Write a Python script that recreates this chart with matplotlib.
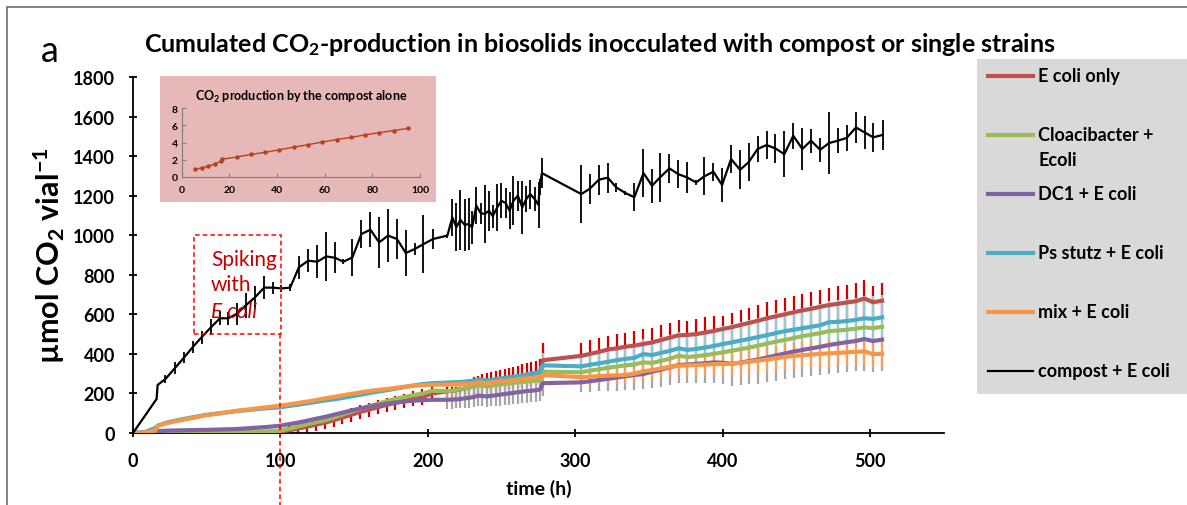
import numpy as np
import matplotlib
matplotlib.use('Agg')
import matplotlib.pyplot as plt
from matplotlib.patches import Rectangle

plt.rcParams['font.family'] = ['Lato', 'DejaVu Sans']
plt.rcParams['mathtext.fontset'] = 'custom'
plt.rcParams['mathtext.rm'] = 'Lato'
plt.rcParams['mathtext.bf'] = 'Lato:bold'
plt.rcParams['mathtext.default'] = 'bf'

# ------------------------------------------------------------------------------
# compost + E coli (black)
t_comp = [0, 16, 16.7, 22, 28.5, 34.8, 40.7, 46.5, 52.8, 59, 64.6, 70.3, 76.3, 82.7, 89, 95,
          100.7, 106.6, 112.5, 118.8, 125, 131, 136.9, 142.7, 148.8, 154.9, 161, 166.9, 173,
          179, 185, 191, 197, 203.5, 213.2, 216.6, 219.3, 222, 225, 227.6, 230, 232.8, 235.8,
          238.5, 241.4, 244, 247, 249.8, 252.7, 255.4, 258, 261, 264, 266.7, 269.4, 272.4, 275,
          275.7, 277.3, 304, 309.6, 316, 322, 327.7, 334, 340, 346.2, 352, 357.5, 363.8, 369.7,
          375.5, 381.9, 387.5, 393.6, 399.5, 405.6, 411.7, 417.5, 423.6, 429.7, 435.6, 441.7,
          447.8, 453.9, 459.8, 466, 472, 478.1, 484, 490.3, 496.1, 502, 508.3]
y_comp = [0, 172, 243, 273, 329, 383, 436, 484, 534, 580, 580, 602, 644, 686, 735, 735,
          731, 735, 838, 871, 866, 893, 886, 866, 888, 1006, 1028, 964, 998,
          981, 910, 930, 955, 981, 998, 1090, 1040, 1078, 1052, 1057, 1040, 1149, 1112,
          1107, 1124, 1096, 1141, 1174, 1163, 1124, 1174, 1200, 1141, 1183, 1208, 1183, 1153,
          1242, 1314, 1208, 1234, 1281, 1291, 1242, 1213, 1192, 1314, 1250, 1293, 1338, 1309,
          1293, 1267, 1298, 1321, 1254, 1385, 1331, 1369, 1436, 1456, 1439, 1410,
          1503, 1436, 1478, 1432, 1466, 1478, 1492, 1545, 1520, 1495, 1507]
e_comp = [0, 0, 0, 18, 30, 27, 30, 34, 40, 35, 34, 55, 63, 59, 59, 30,
          17, 18, 59, 59, 83, 122, 78, 14, 93, 72, 88, 129, 135,
          103, 115, 32, 148, 49, 10, 93, 122, 152, 133, 131, 84, 93, 53,
          148, 101, 59, 118, 89, 76, 93, 124, 76, 135, 66, 73, 59, 114,
          40, 76, 147, 78, 76, 76, 21, 12, 70, 120, 85, 124, 73, 72,
          78, 13, 95, 46, 84, 72, 98, 95, 67, 70, 74, 118,
          65, 107, 60, 62, 156, 63, 65, 78, 84, 73, 75]

# ------------------------------------------------------------------------------
# biosolids + single strains, common sampling times
t_col = [0, 8, 15, 17, 24, 35, 50, 70, 90,
         100, 106, 112, 118, 124, 130, 136, 142, 148, 154, 160, 166, 172, 178, 184, 190, 196, 203,
         213, 216, 219, 222, 225, 228, 231, 234, 237, 240, 243, 246, 249, 252, 255, 258, 261, 264,
         267, 270, 273, 276,
         278,
         304, 310, 316, 322, 328, 334, 340, 346, 352, 358, 364, 370, 376, 382, 388, 394, 400, 406,
         412, 418, 424, 430, 436, 442, 448, 454, 460, 466, 472, 478, 484, 490, 496, 502, 508]

y_ecoli = [0, 0, 0, 0, 0, 0, 1, 2, 4,
           8, 14, 22, 32, 42, 52, 64, 78, 92, 106, 118, 130, 142, 152, 162, 172, 182, 200,
           210, 213, 216, 220, 225, 230, 236, 242, 248, 252, 256, 260, 265, 270, 274, 278, 283, 288,
           293, 298, 303, 308,
           368,
           390, 400, 410, 422, 428, 436, 442, 450, 458, 470, 482, 494, 496, 500, 508, 516, 526, 535,
           546, 557, 568, 580, 590, 600, 610, 620, 628, 638, 647, 653, 660, 666, 680, 661, 669]
e_ecoli = [0, 0, 0, 0, 0, 0, 0, 0, 0,
           30, 30, 32, 32, 33, 33, 34, 34, 35, 35, 35, 36, 36, 37, 37, 38, 38, 40,
           40, 42, 42, 44, 45, 45, 47, 48, 50, 50, 52, 52, 54, 55, 56, 58, 58, 60,
           60, 62, 62, 64,
           88,
           67, 68, 70, 70, 72, 72, 74, 76, 74, 76, 76, 78, 72, 74, 76, 78, 67, 72,
           74, 76, 78, 80, 80, 82, 82, 84, 84, 86, 86, 88, 88, 90, 93, 82, 90]

y_cloac = [0, 0, 1, 2, 3, 4, 5, 6, 8,
           12, 22, 33, 44, 54, 64, 78, 93, 108, 122, 135, 148, 161, 172, 182, 191, 199, 214,
           212, 214, 218, 222, 226, 230, 234, 240, 238, 236, 239, 242, 245, 248, 251, 254, 256, 258,
           260, 262, 264, 266,
           310,
           307, 315, 322, 330, 336, 342, 347, 357, 354, 365, 375, 391, 384, 388, 394, 400, 408, 416,
           424, 432, 442, 452, 462, 470, 480, 490, 497, 505, 515, 518, 522, 528, 534, 530, 537]

y_dc1 = [0, 2, 5, 10, 12, 14, 16, 20, 30,
         37, 45, 53, 62, 72, 81, 92, 103, 114, 124, 133, 141, 148, 154, 159, 163, 166, 168,
         168, 169, 170, 172, 175, 178, 182, 189, 187, 185, 188, 191, 194, 197, 200, 203, 206, 209,
         212, 214, 216, 220,
         252,
         256, 262, 268, 274, 280, 287, 293, 298, 310, 320, 332, 344, 346, 350, 353, 357, 355, 350,
         356, 364, 372, 382, 392, 402, 412, 420, 428, 436, 445, 452, 459, 465, 475, 465, 472]
e_dc1 = [0, 0, 0, 0, 0, 0, 0, 0, 0,
         0, 0, 0, 0, 0, 0, 0, 0, 0, 0, 0, 0, 0, 0, 0, 0, 0, 0,
         45, 46, 46, 48, 48, 50, 50, 52, 52, 52, 54, 54, 55, 55, 56, 56, 57, 57,
         58, 58, 60, 60,
         65,
         50, 55, 58, 62, 66, 70, 74, 78, 82, 85, 88, 92, 95, 98, 100, 104, 108, 112,
         115, 118, 122, 125, 128, 130, 133, 136, 140, 142, 145, 148, 150, 153, 160, 155, 158]

y_psstutz = [0, 5, 25, 38, 55, 72, 92, 110, 125,
             130, 137, 143, 150, 157, 164, 170, 177, 185, 193, 201, 209, 216, 224, 232, 240, 247, 252,
             255, 256, 257, 258, 260, 262, 264, 270, 268, 266, 268, 272, 276, 279, 282, 285, 288, 292,
             296, 300, 304, 308,
             342,
             337, 345, 352, 360, 368, 375, 380, 399, 394, 405, 415, 428, 420, 425, 432, 440, 450, 458,
             467, 476, 485, 495, 505, 515, 522, 530, 537, 545, 560, 562, 566, 572, 580, 577, 585]
e_psstutz = [0, 0, 0, 0, 0, 0, 0, 0, 0,
             0, 0, 0, 0, 0, 0, 0, 0, 0, 0, 0, 0, 0, 0, 0, 0, 0, 0,
             0, 0, 0, 0, 0, 0, 0, 0, 0, 0, 0, 0, 0, 0, 0, 0, 0, 0,
             0, 0, 0, 0,
             60,
             60, 62, 64, 66, 68, 70, 72, 74, 76, 78, 80, 82, 84, 85, 86, 88, 90, 92,
             94, 95, 96, 98, 100, 101, 102, 104, 105, 106, 108, 109, 110, 112, 115, 115, 115]

y_mix = [0, 3, 12, 37, 52, 68, 90, 112, 130,
         138, 145, 152, 159, 166, 175, 182, 190, 198, 205, 212, 218, 222, 228, 234, 238, 242, 244,
         245, 246, 247, 248, 249, 250, 252, 256, 254, 253, 255, 258, 261, 264, 266, 268, 271, 274,
         276, 278, 281, 284,
         293,
         282, 285, 288, 290, 292, 293, 300, 312, 318, 326, 335, 340, 342, 344, 346, 348, 349, 350,
         355, 360, 366, 372, 378, 384, 390, 393, 397, 400, 403, 405, 408, 410, 413, 398, 401]
e_mix = [0, 0, 0, 0, 0, 0, 0, 0, 0,
         0, 0, 0, 0, 0, 0, 0, 0, 0, 0, 0, 0, 0, 0, 0, 0, 0, 0,
         12, 12, 13, 13, 14, 14, 14, 15, 15, 16, 16, 16, 17, 17, 18, 18, 18, 19,
         19, 20, 20, 20,
         30,
         40, 42, 42, 44, 45, 46, 48, 48, 50, 50, 52, 53, 54, 55, 56, 56, 58, 58,
         60, 60, 62, 62, 63, 64, 65, 66, 66, 67, 68, 68, 69, 70, 70, 70, 70]

# inset: compost alone
t_inset = [5.5, 8.5, 11, 14, 16.5, 17, 23, 29, 35, 41, 47, 53, 59, 65, 71, 77, 83, 89, 95]
y_inset = [0.85, 1.05, 1.2, 1.5, 1.8, 2.05, 2.3, 2.6, 2.85, 3.15, 3.45, 3.75, 4.05, 4.35,
           4.6, 4.9, 5.15, 5.4, 5.65]

labels = ['E coli only', 'Cloacibacter +\nEcoli', 'DC1 + E coli', 'Ps stutz + E coli',
          'mix + E coli', 'compost + E coli']
colors = ['#c0504d', '#9bbb59', '#8064a2', '#4bacc6', '#f79646', '#000000']

# ==============================================================================
W, H = 1187, 506
fig = plt.figure(figsize=(W / 100, H / 100), dpi=100)

# frame around the panel
fig.patches.append(Rectangle((7 / W, -0.1), 1.2, 1.1 - 8 / H, transform=fig.transFigure,
                             fill=False, edgecolor='#6f6f6f', lw=1.2))

ax = fig.add_axes([133 / W, 72 / H, 811 / W, 356 / H])
t = np.array(t_col)


def bars(y, e, color, z):
    y = np.array(y, float)
    e = np.array(e, float)
    m = e > 0
    ax.vlines(t[m], y[m] - e[m], y[m] + e[m], colors=color, lw=1.6, zorder=z)


bars(y_ecoli, e_ecoli, '#d00000', 2.0)
bars(y_dc1, e_dc1, '#a6a6a6', 2.1)
bars(y_psstutz, e_psstutz, '#8fcbdc', 2.2)
bars(y_mix, e_mix, '#f8a05a', 2.3)

series = [y_ecoli, y_cloac, y_dc1, y_psstutz, y_mix]
for i, y in enumerate(series):
    ax.plot(t, y, color=colors[i], lw=3, zorder=3 + i * 0.1, solid_joinstyle='round')

ax.errorbar(t_comp, y_comp, yerr=e_comp, color='black', lw=1.6, elinewidth=1.3,
            capsize=0, zorder=4)

# spiking annotation
spike_t = 100
ax.add_patch(Rectangle((41.5, 500), spike_t + 0.7 - 41.5, 500, fill=False,
                       edgecolor='#ff0000', ls=(0, (3, 2)), lw=1.1, zorder=5))
ax.plot([spike_t, spike_t], [500, -370], color='#ff0000', ls=(0, (3, 2)), lw=1.1,
        clip_on=False, zorder=5)
ax.text(53, 880, 'Spiking', color='#c00000', fontsize=15, va='center', zorder=6)
ax.text(53, 752, 'with', color='#c00000', fontsize=15, va='center', zorder=6)
ax.text(53, 618, 'E coli', color='#c00000', fontsize=15, va='center', style='italic',
        zorder=6)

ax.set_xlim(0, 550)
ax.set_ylim(0, 1800)
ax.set_xticks(range(0, 501, 100))
ax.set_yticks(range(0, 1801, 200))
for s in ['top', 'right']:
    ax.spines[s].set_visible(False)
for s in ['left', 'bottom']:
    ax.spines[s].set_linewidth(1.3)
ax.tick_params(direction='inout', length=6, width=1.3, labelsize=13)
ax.tick_params(axis='x', pad=11)
ax.tick_params(axis='y', pad=10)
for lab in ax.get_xticklabels() + ax.get_yticklabels():
    lab.set_fontweight('bold')
ax.set_xlabel('time (h)', fontsize=14, fontweight='bold', labelpad=7)
ax.set_ylabel('µmol CO$_2$ vial$^{-1}$', fontsize=22, fontweight='bold', labelpad=4)

fig.text(600 / W, 1 - 45 / H,
         'Cumulated CO$_2$-production in biosolids inocculated with compost or single strains',
         ha='center', va='center', fontsize=18, fontweight='bold')
fig.text(50 / W, 1 - 52 / H, 'a', ha='center', va='center', fontsize=26)

# ------------------------------------------------------------------------------
# inset
bg = fig.add_axes([160 / W, (H - 203) / H, 276 / W, 126 / H])
bg.set_facecolor('#e6b8b7')
bg.set_xticks([])
bg.set_yticks([])
for s in bg.spines.values():
    s.set_visible(False)

ins = fig.add_axes([181.7 / W, (H - 177.7) / H, 238.3 / W, 68.4 / H])
ins.patch.set_alpha(0)
ins.plot(t_inset, y_inset, color='#b5441c', lw=1, marker='o', ms=2.2)
ins.set_xlim(0, 100)
ins.set_ylim(0, 8)
ins.set_xticks(range(0, 101, 20))
ins.set_yticks(range(0, 9, 2))
for s in ['top', 'right']:
    ins.spines[s].set_visible(False)
for s in ['left', 'bottom']:
    ins.spines[s].set_color('#808080')
    ins.spines[s].set_linewidth(0.8)
ins.tick_params(direction='in', length=3, width=0.8, color='#808080', labelsize=7.5, pad=3)
ins.tick_params(axis='x', pad=6)
for lab in ins.get_xticklabels() + ins.get_yticklabels():
    lab.set_fontweight('bold')
ins.set_title('CO$_2$ production by the compost alone', fontsize=9, fontweight='bold',
              pad=6)

# ------------------------------------------------------------------------------
# legend box
lx0, ly0, ly1 = 976.7, 60, 395
lax = fig.add_axes([lx0 / W, (H - ly1) / H, (W - lx0) / W, (ly1 - ly0) / H])
lax.set_facecolor('#d9d9d9')
lax.set_xlim(lx0, W)
lax.set_ylim(ly1, ly0)
lax.set_xticks([])
lax.set_yticks([])
for s in lax.spines.values():
    s.set_visible(False)
row0, step = 76.7, 59
for i, lab in enumerate(labels):
    yy = row0 + i * step
    lax.plot([988, 1033], [yy, yy], color=colors[i], lw=3 if i < 5 else 1.6)
    for k, part in enumerate(lab.split('\n')):
        lax.text(1038, yy + k * 25, part, fontsize=13, fontweight='bold', va='center')

fig.savefig('out.png', dpi=100)
